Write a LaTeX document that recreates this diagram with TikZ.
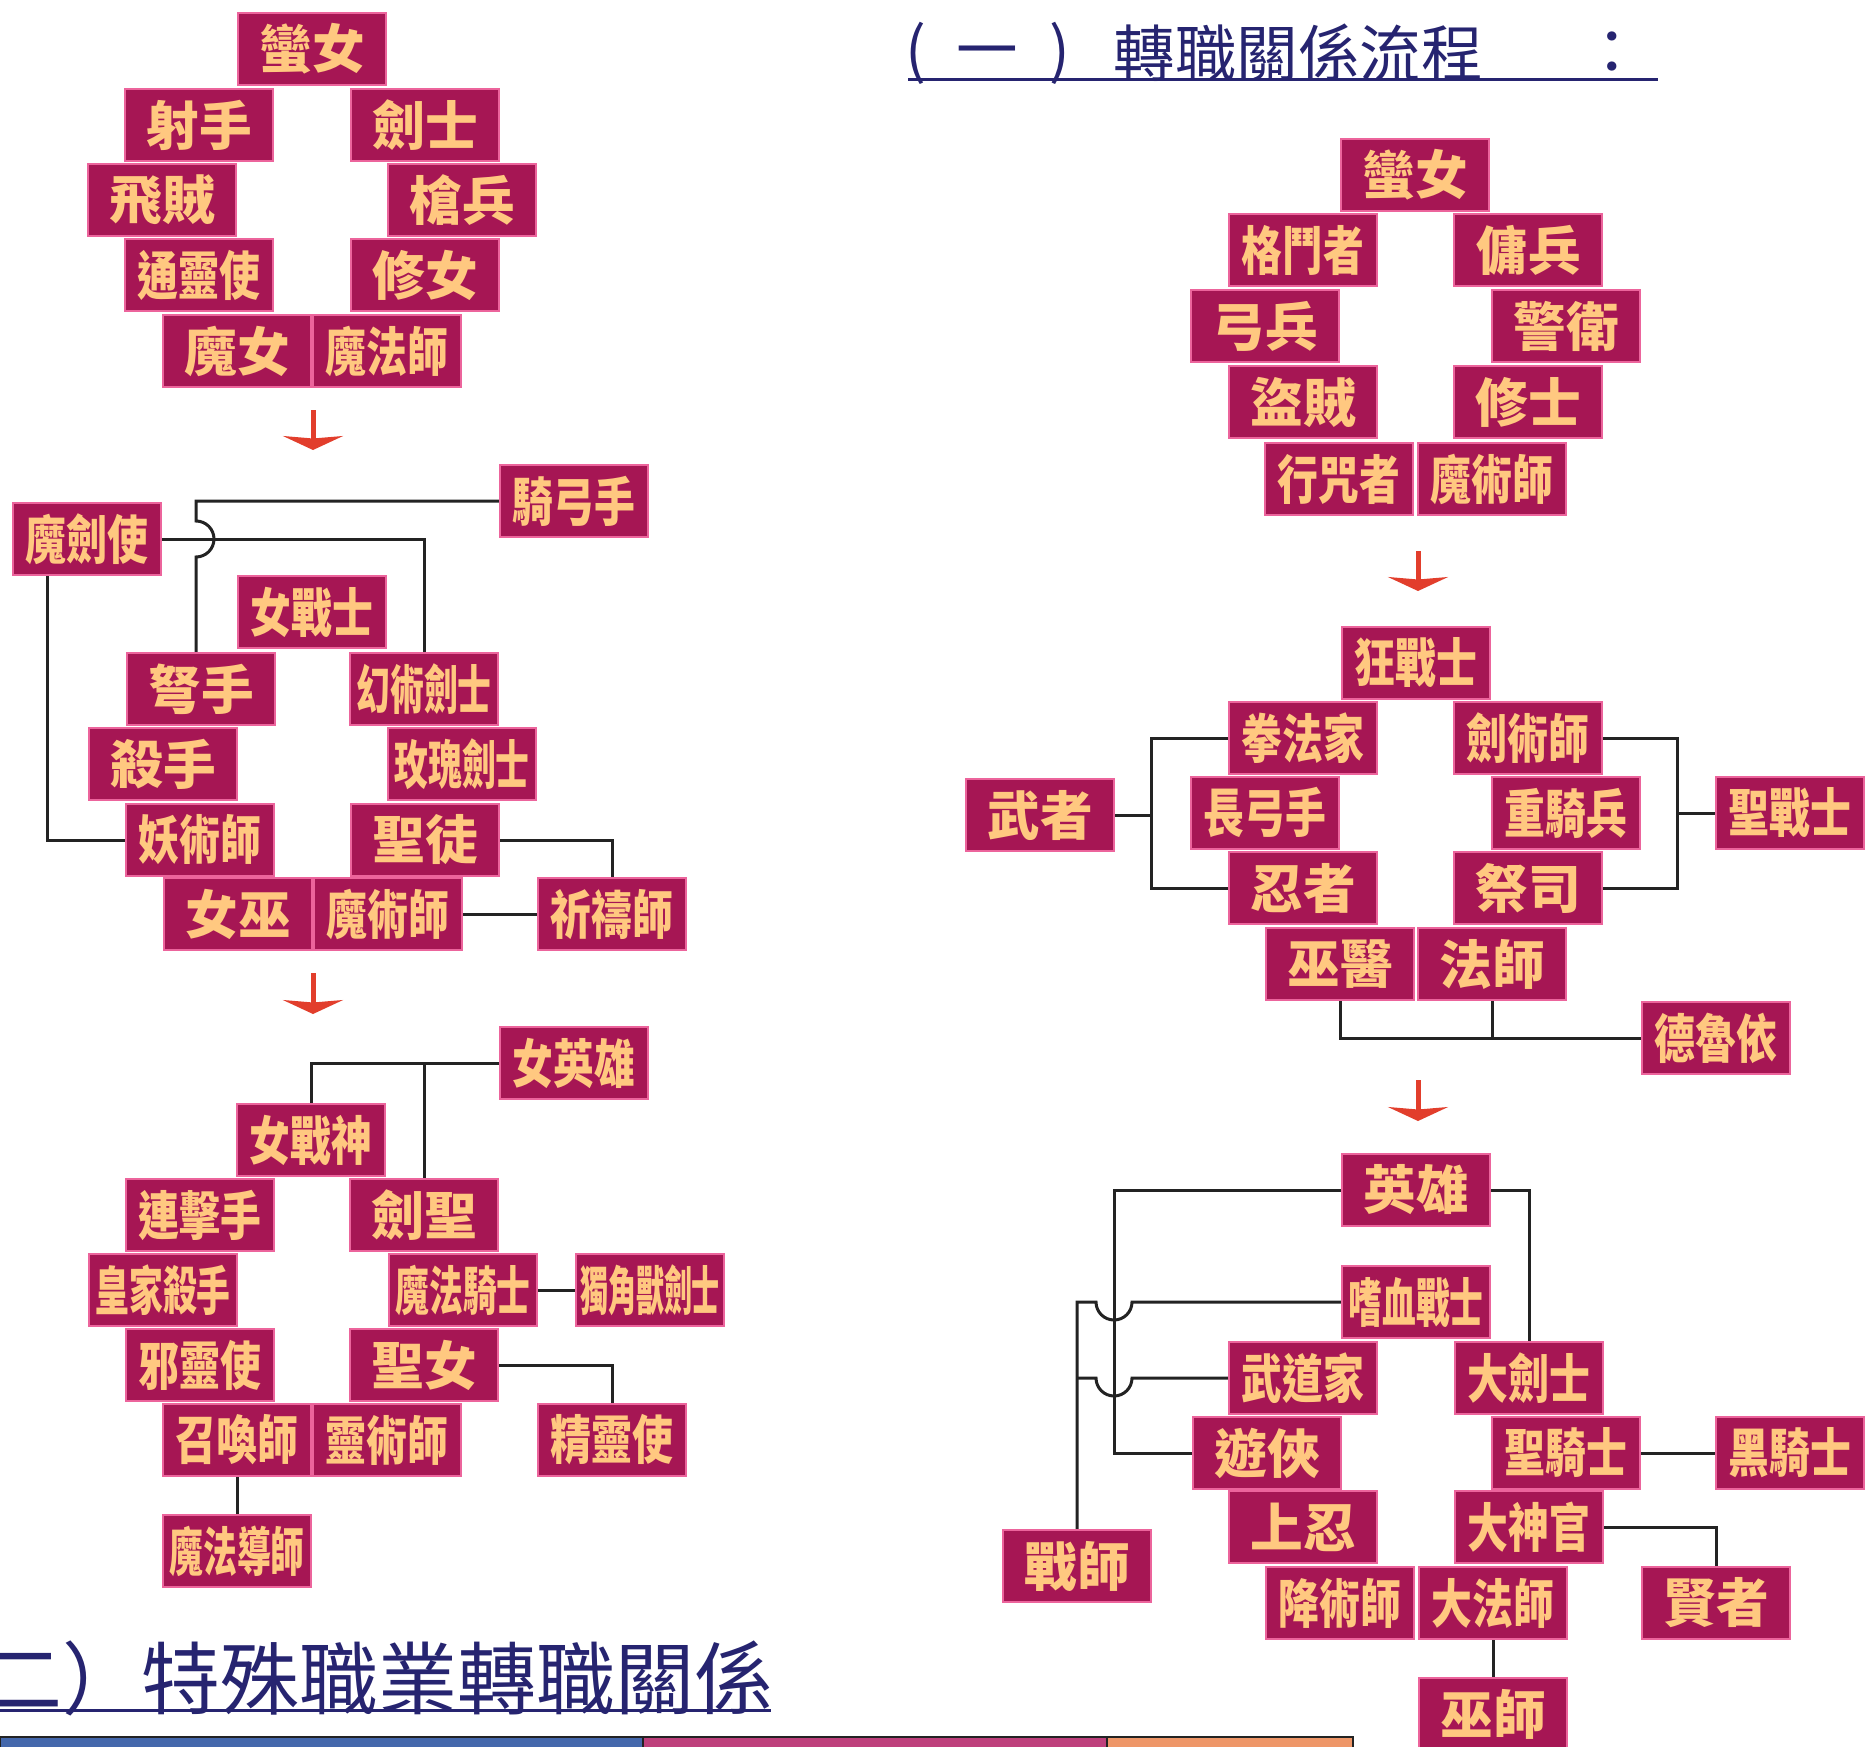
\documentclass[tikz,border=0pt]{standalone}
\usepackage{fontspec}
\usepackage{graphicx}
\usetikzlibrary{arrows.meta,calc}
\newfontfamily\cjk{Noto Sans CJK TC}
\definecolor{jobfill}{RGB}{166,22,84}
\definecolor{jobedge}{RGB}{236,100,156}
\definecolor{jobtext}{RGB}{255,200,128}
\definecolor{linkgray}{RGB}{35,35,35}
\definecolor{flowred}{RGB}{226,62,44}
\definecolor{titleblue}{RGB}{38,36,112}
\definecolor{barblue}{RGB}{68,104,172}
\definecolor{barpink}{RGB}{190,64,124}
\definecolor{barorange}{RGB}{238,150,104}
% squeeze long job names into the box
\newsavebox{\zhibox}
\newcommand{\zhi}[2][2.45cm]{\sbox{\zhibox}{#2}\ifdim\wd\zhibox>#1\relax\resizebox{#1}{\ht\zhibox}{\usebox{\zhibox}}\else\usebox{\zhibox}\fi}

\begin{document}
\begin{tikzpicture}[x=0.02cm,y=-0.02cm,
  job/.style={draw=jobedge,fill=jobfill,line width=0.05cm,minimum width=2.96cm,minimum height=1.44cm,inner sep=0pt,text=jobtext,font=\cjk\bfseries\fontsize{30pt}{30pt}\selectfont},
  link/.style={draw=linkgray,line width=0.06cm},
  flow/.style={draw=flowred,line width=0.1cm,-{Stealth[width=1.2cm,length=0.28cm,inset=0.05cm]}},
  title/.style={text=titleblue,inner sep=0pt,font=\cjk\fontsize{35pt}{35pt}\selectfont},
  bigtitle/.style={text=titleblue,inner sep=0pt,font=\cjk\fontsize{45pt}{45pt}\selectfont},
  rule/.style={draw=titleblue,line width=0.06cm}]
\useasboundingbox (0,0) rectangle (1866,1747);
\fill[white] (0,0) rectangle (1866,1747);
\clip (0,0) rectangle (1866,1747);

% titles
\node[title,anchor=west] (t1p) at (905,53) {(\hspace{0.5em}一\hspace{0.5em})};
\node[title,anchor=east] (t1) at (1483,53) {轉職關係流程};
\node[title] (t1c) at (1612,53) {：};
\coordinate (u1) at (908,80);
\draw[rule] (u1) -- ++(750,0);
\node[bigtitle,anchor=east] (t2) at (774,1678) {（二）特殊職業轉職關係};
\coordinate (u2) at (0,1710);
\draw[rule] (u2) -- ++(771,0);

% first job, female
\node[job] (a0) at (312,49) {蠻女};
\node[job] (a1) at (199,125) {射手};
\node[job] (a2) at (425,125) {劍士};
\node[job] (a3) at (162,200) {飛賊};
\node[job] (a4) at (462,200) {槍兵};
\node[job] (a5) at (199,275) {\zhi{通靈使}};
\node[job] (a6) at (425,275) {修女};
\node[job] (a7) at (237,351) {魔女};
\node[job] (a8) at (387,351) {\zhi{魔法師}};

% second job, female
\node[job] (b0) at (312,612) {\zhi{女戰士}};
\node[job] (b1) at (201,689) {弩手};
\node[job] (b2) at (424,689) {\zhi[2.7cm]{幻術劍士}};
\node[job] (b3) at (163,764) {殺手};
\node[job] (b4) at (462,764) {\zhi[2.7cm]{玫瑰劍士}};
\node[job] (b5) at (200,840) {\zhi{妖術師}};
\node[job] (b6) at (425,840) {聖徒};
\node[job] (b7) at (238,914) {女巫};
\node[job] (b8) at (388,914) {\zhi{魔術師}};
\node[job] (bx) at (87,539) {\zhi{魔劍使}};
\node[job] (by) at (574,501) {\zhi{騎弓手}};
\node[job] (bz) at (612,914) {\zhi{祈禱師}};

% third job, female
\node[job] (c0) at (311,1140) {\zhi{女戰神}};
\node[job] (c1) at (200,1215) {\zhi{連擊手}};
\node[job] (c2) at (424,1215) {劍聖};
\node[job] (c3) at (163,1290) {\zhi[2.7cm]{皇家殺手}};
\node[job] (c4) at (463,1290) {\zhi[2.7cm]{魔法騎士}};
\node[job] (c5) at (200,1365) {\zhi{邪靈使}};
\node[job] (c6) at (424,1365) {聖女};
\node[job] (c7) at (237,1440) {\zhi{召喚師}};
\node[job] (c8) at (387,1440) {\zhi{靈術師}};
\node[job] (cx) at (574,1063) {\zhi{女英雄}};
\node[job] (cu) at (650,1290) {\zhi[2.8cm]{獨角獸劍士}};
\node[job] (cz) at (612,1440) {\zhi{精靈使}};
\node[job] (cm) at (237,1551) {\zhi[2.7cm]{魔法導師}};

% first job, male
\node[job] (d0) at (1415,175) {蠻女};
\node[job] (d1) at (1303,250) {\zhi{格鬥者}};
\node[job] (d2) at (1528,250) {傭兵};
\node[job] (d3) at (1265,326) {弓兵};
\node[job] (d4) at (1566,326) {警衛};
\node[job] (d5) at (1303,402) {盜賊};
\node[job] (d6) at (1528,402) {修士};
\node[job] (d7) at (1339,479) {\zhi{行咒者}};
\node[job] (d8) at (1492,479) {\zhi{魔術師}};

% second job, male
\node[job] (e0) at (1416,663) {\zhi{狂戰士}};
\node[job] (e1) at (1303,738) {\zhi{拳法家}};
\node[job] (e2) at (1528,738) {\zhi{劍術師}};
\node[job] (e3) at (1265,813) {\zhi{長弓手}};
\node[job] (e4) at (1566,813) {\zhi{重騎兵}};
\node[job] (e5) at (1303,888) {忍者};
\node[job] (e6) at (1528,888) {祭司};
\node[job] (e7) at (1340,964) {巫醫};
\node[job] (e8) at (1492,964) {法師};
\node[job] (ew) at (1040,815) {武者};
\node[job] (es) at (1790,813) {\zhi{聖戰士}};
\node[job] (ed) at (1716,1038) {\zhi{德魯依}};

% third job, male
\node[job] (f0) at (1416,1190) {英雄};
\node[job] (fb) at (1416,1302) {\zhi[2.7cm]{嗜血戰士}};
\node[job] (f1) at (1303,1378) {\zhi{武道家}};
\node[job] (f2) at (1529,1378) {\zhi{大劍士}};
\node[job] (f3) at (1267,1453) {遊俠};
\node[job] (f4) at (1566,1453) {\zhi{聖騎士}};
\node[job] (f5) at (1303,1527) {上忍};
\node[job] (f6) at (1529,1527) {\zhi{大神官}};
\node[job] (f7) at (1340,1603) {\zhi{降術師}};
\node[job] (f8) at (1493,1603) {\zhi{大法師}};
\node[job] (fk) at (1790,1453) {\zhi{黑騎士}};
\node[job] (fs) at (1716,1603) {賢者};
\node[job] (fw) at (1077,1566) {戰師};
\node[job] (fm) at (1493,1714) {巫師};

% links, left side
\coordinate (bj) at (196,539);
\draw[link] (by.west) -- (by.west -| bj) -- ($(bj)+(0,-18)$) arc[start angle=90,end angle=-90,radius=0.36cm] -- (bj |- b1.north);
\draw[link] (bx.east) -| (b2.north);
\coordinate (bk) at (47,700);
\draw[link] (bx.south -| bk) |- (b5.west);
\draw[link] (b6.east) -| (bz.north);
\draw[link] (b8.east) -- (bz.west);
\draw[link] (cx.west) -| (c0.north);
\draw[link] (c2.north) |- (cx.west);
\draw[link] (c4.east) -- (cu.west);
\draw[link] (c6.east) -| (cz.north);
\draw[link] (c7.south) -- (cm.north);

% links, right side
\coordinate (eL) at (1151,815);
\coordinate (eR) at (1677,813);
\draw[link] (e1.west) -| (eL) |- (e5.west);
\draw[link] (ew.east) -- (eL);
\draw[link] (e2.east) -| (eR) |- (e6.east);
\draw[link] (es.west) -- (eR);
\draw[link] (e7.south) |- (ed.west);
\draw[link] (e8.south) -- (e8.south |- ed.west);
\coordinate (fA) at (1114,1300);
\coordinate (fJ) at (1132,1300);
\draw[link] (f0.west) -| (fA) |- (f3.west);
\draw[link] (f0.east) -| (f2.north);
\draw[link] (fb.west) -- (fb.west -| fJ) arc[start angle=0,end angle=-180,radius=0.36cm] -- (fb.west -| fw.north) -- (fw.north);
\draw[link] (f1.west) -- (f1.west -| fJ) arc[start angle=0,end angle=-180,radius=0.36cm] -- (f1.west -| fw.north);
\draw[link] (f4.east) -- (fk.west);
\draw[link] (f6.east) -| (fs.north);
\draw[link] (f8.south) -- (fm.north);

% red arrows between stages
\coordinate (ar1) at (313,410);
\coordinate (ar2) at (313,973);
\coordinate (ar3) at (1418,551);
\coordinate (ar4) at (1418,1080);
\draw[flow] (ar1) -- ++(0,40);
\draw[flow] (ar2) -- ++(0,41);
\draw[flow] (ar3) -- ++(0,40);
\draw[flow] (ar4) -- ++(0,41);

% table head at the bottom
\filldraw[fill=barblue,draw=linkgray,line width=0.04cm] (0,1737) rectangle (643,1760);
\filldraw[fill=barpink,draw=linkgray,line width=0.04cm] (643,1737) rectangle (1107,1760);
\filldraw[fill=barorange,draw=linkgray,line width=0.04cm] (1107,1737) rectangle (1353,1760);
\end{tikzpicture}
\end{document}
